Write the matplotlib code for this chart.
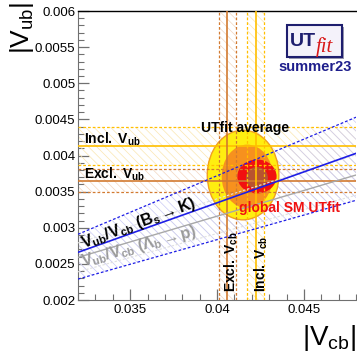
import numpy as np
import matplotlib.pyplot as plt
from matplotlib.patches import Ellipse, Rectangle
from matplotlib.ticker import MultipleLocator, FormatStrFormatter

plt.rcParams['font.family'] = ['Liberation Sans', 'DejaVu Sans']
plt.rcParams['mathtext.fontset'] = 'custom'
plt.rcParams['mathtext.rm'] = 'Liberation Sans'
plt.rcParams['mathtext.it'] = 'Liberation Sans:italic'
plt.rcParams['mathtext.bf'] = 'Liberation Sans:bold'
plt.rcParams['hatch.linewidth'] = 0.5

# axis ranges
vcb_lim = [0.032, 0.048]
vub_lim = [0.002, 0.006]

# inclusive / exclusive determinations (central, error)
incl_vub = [0.00413, 0.00026]
excl_vub = [0.00365, 0.00016]
excl_vcb = [0.04060, 0.00047]
incl_vcb = [0.04222, 0.00051]

# Vub/Vcb bands, values at the left and right edge of the plot
vcb_ends = [0.032, 0.048]
bsk_central = [0.00266, 0.00403]
bsk_upper = [0.00291, 0.00453]
bsk_lower = [0.00229, 0.00338]
lbp_central = [0.00259, 0.00373]
lbp_upper = [0.00279, 0.00401]
lbp_lower = [0.00239, 0.00345]

# fit contours: centre x, centre y, half width, half height
avg_95 = [0.04150, 0.00373, 0.00206, 0.00062]
avg_68 = [0.04174, 0.00371, 0.00147, 0.00044]
sm_95 = [0.04230, 0.00371, 0.00113, 0.000235]
sm_68 = [0.04230, 0.00369, 0.00063, 0.000152]

GOLD = '#FFBF00'
BROWN = '#D27A30'
BLUE = '#1E1EE6'
GRAY = '#A8A8A8'
HATCH = '\\\\\\\\'
dash = (0, (2.2, 1.6))

fig = plt.figure(figsize=(3.57, 3.52), dpi=100)
ax = fig.add_axes([0.2185, 0.1477, 0.7787, 0.821])
ax.set_xlim(vcb_lim)
ax.set_ylim(vub_lim)


def contour(c, face, edge=None, z=2.5):
    e = Ellipse((c[0], c[1]), 2 * c[2], 2 * c[3], facecolor=face,
                edgecolor=edge if edge else 'none', linewidth=1, zorder=z)
    ax.add_patch(e)


contour(avg_95, '#FFEE10', '#F0A020')
contour(avg_68, '#F7911E')
contour(sm_95, '#F21010')
contour(sm_68, '#B8532F')

# horizontal bands
for val, col, hcol in [(incl_vub, GOLD, '#FAE6B0'), (excl_vub, BROWN, '#F2D6C0')]:
    ax.fill_between(vcb_lim, val[0] - val[1], val[0] + val[1], facecolor='none',
                    edgecolor=hcol, hatch=HATCH, linewidth=0, zorder=2)
    ax.axhline(val[0], color=col, lw=1.2, zorder=3)
    ax.axhline(val[0] - val[1], color=col, lw=0.9, ls=dash, zorder=3)
    ax.axhline(val[0] + val[1], color=col, lw=0.9, ls=dash, zorder=3)

# vertical bands
for val, col, hcol in [(excl_vcb, BROWN, '#F2D6C0'), (incl_vcb, GOLD, '#FAE6B0')]:
    ax.fill_betweenx(vub_lim, val[0] - val[1], val[0] + val[1], facecolor='none',
                     edgecolor=hcol, hatch=HATCH, linewidth=0, zorder=2)
    ax.axvline(val[0], color=col, lw=1.2, zorder=3)
    ax.axvline(val[0] - val[1], color=col, lw=0.9, ls=dash, zorder=3)
    ax.axvline(val[0] + val[1], color=col, lw=0.9, ls=dash, zorder=3)

# ratio bands
ax.fill_between(vcb_ends, lbp_lower, lbp_upper, facecolor='none', edgecolor='#E2E2E2',
                hatch=HATCH, linewidth=0, zorder=2)
ax.plot(vcb_ends, lbp_central, color=GRAY, lw=1.0, zorder=3)
ax.plot(vcb_ends, lbp_upper, color='#E0E0E0', lw=0.8, ls=dash, zorder=3)
ax.plot(vcb_ends, lbp_lower, color='#E0E0E0', lw=0.8, ls=dash, zorder=3)

ax.fill_between(vcb_ends, bsk_lower, bsk_upper, facecolor='none', edgecolor='#CACAF4',
                hatch=HATCH, linewidth=0, zorder=2)
ax.plot(vcb_ends, bsk_central, color=BLUE, lw=1.2, zorder=3)
ax.plot(vcb_ends, bsk_upper, color=BLUE, lw=0.9, ls=dash, zorder=3)
ax.plot(vcb_ends, bsk_lower, color=BLUE, lw=0.9, ls=dash, zorder=3)

# labels inside the plot
ax.text(0.03232, 0.00416, r'$\mathbf{Incl.\ V_{ub}}$', fontsize=10, zorder=5)
ax.text(0.03232, 0.00368, r'$\mathbf{Excl.\ V_{ub}}$', fontsize=10, zorder=5)
ax.text(0.03229, 0.00272, r'$\mathbf{V_{ub}/V_{cb}\ (B_s \rightarrow K)}$', fontsize=11.5,
        rotation=20, rotation_mode='anchor', ha='left', va='baseline', zorder=5)
ax.text(0.03229, 0.00247, r'$\mathbf{V_{ub}/V_{cb}\ (\Lambda_b \rightarrow p)}$', fontsize=11.5,
        color='#9A9A9A', rotation=15, rotation_mode='anchor', ha='left', va='baseline', zorder=5)
ax.text(0.04106, 0.00211, r'$\mathbf{Excl.\ V_{cb}}$', fontsize=10, rotation=90,
        rotation_mode='anchor', ha='left', va='baseline', zorder=5)
ax.text(0.04282, 0.00211, r'$\mathbf{Incl.\ V_{cb}}$', fontsize=10, rotation=90,
        rotation_mode='anchor', ha='left', va='baseline', zorder=5)
ax.text(0.04161, 0.00433, 'UTfit average', fontsize=10, fontweight='bold',
        ha='center', va='baseline', zorder=5)
ax.text(0.04420, 0.00322, 'global SM UTfit', fontsize=10, fontweight='bold',
        color='#F01010', ha='center', va='baseline', zorder=5)

# axes style
ax.xaxis.set_major_locator(MultipleLocator(0.005))
ax.xaxis.set_minor_locator(MultipleLocator(0.001))
ax.yaxis.set_major_locator(MultipleLocator(0.0005))
ax.yaxis.set_minor_locator(MultipleLocator(0.0001))
ax.xaxis.set_major_formatter(FormatStrFormatter('%g'))
ax.yaxis.set_major_formatter(FormatStrFormatter('%g'))
ax.tick_params(which='both', direction='in', color='#707070', labelsize=9.5,
               top=False, right=False)
ax.tick_params(which='major', length=8, width=0.9)
ax.tick_params(which='minor', length=4, width=0.8)
ax.tick_params(axis='x', pad=3)
ax.tick_params(axis='y', pad=2)
ax.spines['right'].set_visible(False)
ax.spines['left'].set_color('#707070')
ax.spines['bottom'].set_color('#707070')
ax.spines['top'].set_linewidth(1.0)

fig.text(29 / 357, 1 - 2 / 352, r'$|\mathrm{V}_{\mathrm{ub}}|$', fontsize=19, rotation=90,
         rotation_mode='anchor', ha='right', va='baseline')
fig.text(356 / 357, 1 - 345 / 352, r'$|\mathrm{V}_{\mathrm{cb}}|$', fontsize=20,
         ha='right', va='baseline')

# logo
fig.patches.append(Rectangle((289 / 357, 1 - 59 / 352), 55 / 357, 32 / 352,
                             transform=fig.transFigure, facecolor='#9A9AB0', edgecolor='none'))
fig.patches.append(Rectangle((287 / 357, 1 - 57 / 352), 55 / 357, 32 / 352,
                             transform=fig.transFigure, facecolor='#F4F2FA',
                             edgecolor='#1E1E6E', linewidth=1.5))
fig.text(290 / 357, 1 - 46 / 352, 'UT', fontsize=14, fontweight='bold', color='#1E1E6E',
         ha='left', va='baseline')
fig.text(316 / 357, 1 - 52 / 352, 'fit', fontsize=15, style='italic', color='#D81818',
         family='Liberation Serif', ha='left', va='baseline')
fig.text(315 / 357, 1 - 71 / 352, 'summer23', fontsize=10.5, fontweight='bold',
         color='#1E1E8C', ha='center', va='baseline')

plt.savefig('out.png', dpi=100)
plt.close(fig)
